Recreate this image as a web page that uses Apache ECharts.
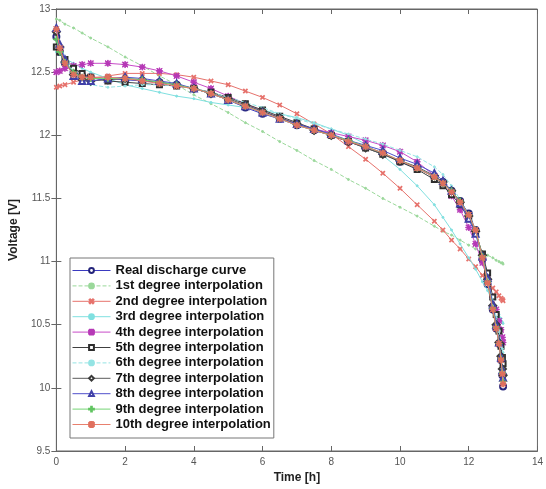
<!DOCTYPE html>
<html>
<head>
<meta charset="utf-8">
<script src="https://cdn.jsdelivr.net/npm/echarts@6/dist/echarts.min.js"></script>
<style>
  html, body { margin: 0; padding: 0; background: #fff; }
  #chart { width: 546px; height: 489px; }
</style>
</head>
<body>
<div id="chart"></div>
<script>
// Sample times of the discharge test [h]
const timeH = [0, 0.1, 0.25, 0.5, 0.75, 1, 1.5, 2, 2.5, 3, 3.5, 4, 4.5, 5, 5.5, 6,
  6.5, 7, 7.5, 8, 8.5, 9, 9.5, 10, 10.5, 11, 11.25, 11.5, 11.75, 12,
  12.2, 12.4, 12.55, 12.7, 12.8, 12.88, 12.94, 12.98, 13.0];

// Measured battery voltage [V]
const realCurve = [12.78, 12.66, 12.57, 12.50, 12.47, 12.46,
  12.45, 12.44, 12.43, 12.42, 12.40, 12.37, 12.33, 12.28, 12.22, 12.17,
  12.13, 12.08, 12.04, 12.00, 11.95, 11.91, 11.86, 11.79, 11.74, 11.67,
  11.63, 11.56, 11.48, 11.38,
  11.25, 11.02, 10.82, 10.62, 10.47, 10.35, 10.22, 10.10, 10.01];

// Polynomial fits evaluated at the sample times [V]
const deg1 = [12.92, 12.91, 12.88, 12.85, 12.81, 12.77,
  12.70, 12.62, 12.55, 12.47, 12.40, 12.32, 12.25, 12.18, 12.10, 12.03,
  11.95, 11.88, 11.80, 11.73, 11.65, 11.58, 11.50, 11.43, 11.36, 11.28,
  11.24, 11.21, 11.17, 11.13,
  11.10, 11.07, 11.05, 11.03, 11.01, 11.00, 10.99, 10.99, 10.98];
const deg2 = [12.38, 12.39, 12.40, 12.42, 12.44, 12.45,
  12.47, 12.49, 12.49, 12.49, 12.48, 12.46, 12.43, 12.40, 12.35, 12.30,
  12.24, 12.17, 12.09, 12.01, 11.91, 11.81, 11.70, 11.58, 11.45, 11.32,
  11.25, 11.17, 11.10, 11.02,
  10.96, 10.89, 10.84, 10.79, 10.76, 10.73, 10.71, 10.70, 10.69];
const deg3 = [12.66, 12.64, 12.61, 12.57, 12.53, 12.50,
  12.45, 12.40, 12.37, 12.34, 12.31, 12.29, 12.26, 12.24, 12.22, 12.20,
  12.17, 12.14, 12.10, 12.05, 12.00, 11.93, 11.84, 11.73, 11.60, 11.45,
  11.35, 11.25, 11.14, 11.03,
  10.94, 10.84, 10.77, 10.68, 10.62, 10.58, 10.55, 10.52, 10.51];
const deg4 = [12.50, 12.51, 12.53, 12.55, 12.56, 12.57,
  12.57, 12.56, 12.54, 12.51, 12.47, 12.42, 12.37, 12.31, 12.25, 12.19,
  12.14, 12.09, 12.05, 12.02, 11.99, 11.96, 11.92, 11.87, 11.79, 11.68,
  11.61, 11.52, 11.41, 11.27,
  11.14, 10.99, 10.86, 10.72, 10.62, 10.53, 10.46, 10.40, 10.36];
const deg5 = [12.70, 12.66, 12.60, 12.53, 12.49, 12.46,
  12.43, 12.42, 12.41, 12.40, 12.39, 12.37, 12.34, 12.30, 12.25, 12.20,
  12.15, 12.10, 12.05, 12.00, 11.95, 11.90, 11.85, 11.79, 11.73, 11.65,
  11.60, 11.53, 11.45, 11.34,
  11.23, 11.06, 10.91, 10.72, 10.58, 10.45, 10.33, 10.24, 10.19];
const deg6 = [12.80, 12.72, 12.62, 12.50, 12.43, 12.40,
  12.38, 12.39, 12.40, 12.40, 12.39, 12.37, 12.34, 12.30, 12.26, 12.22,
  12.17, 12.13, 12.09, 12.05, 12.01, 11.97, 11.93, 11.88, 11.83, 11.75,
  11.69, 11.60, 11.49, 11.35,
  11.21, 11.03, 10.87, 10.69, 10.56, 10.45, 10.37, 10.31, 10.28];
const deg7 = [12.82, 12.70, 12.58, 12.48, 12.44, 12.43,
  12.44, 12.45, 12.44, 12.42, 12.40, 12.37, 12.33, 12.29, 12.24, 12.19,
  12.14, 12.09, 12.04, 12.00, 11.95, 11.90, 11.85, 11.80, 11.75, 11.68,
  11.63, 11.56, 11.47, 11.36,
  11.24, 11.05, 10.86, 10.65, 10.50, 10.36, 10.25, 10.15, 10.10];
const deg8 = [12.85, 12.72, 12.60, 12.47, 12.43, 12.43,
  12.45, 12.46, 12.45, 12.43, 12.41, 12.37, 12.33, 12.28, 12.23, 12.18,
  12.13, 12.09, 12.05, 12.01, 11.96, 11.92, 11.88, 11.82, 11.77, 11.70,
  11.64, 11.56, 11.46, 11.34,
  11.22, 11.04, 10.87, 10.66, 10.50, 10.36, 10.24, 10.14, 10.08];
const deg9 = [12.76, 12.66, 12.58, 12.50, 12.46, 12.45,
  12.45, 12.45, 12.44, 12.42, 12.40, 12.37, 12.33, 12.28, 12.23, 12.18,
  12.13, 12.08, 12.04, 12.00, 11.96, 11.91, 11.86, 11.80, 11.74, 11.67,
  11.62, 11.56, 11.48, 11.37,
  11.25, 11.04, 10.84, 10.63, 10.48, 10.35, 10.23, 10.12, 10.05];
const deg10 = [12.84, 12.69, 12.57, 12.48, 12.46, 12.46,
  12.46, 12.45, 12.43, 12.41, 12.39, 12.37, 12.33, 12.28, 12.23, 12.18,
  12.13, 12.08, 12.04, 12.00, 11.95, 11.91, 11.86, 11.80, 11.74, 11.67,
  11.62, 11.55, 11.47, 11.37,
  11.25, 11.03, 10.83, 10.62, 10.47, 10.35, 10.22, 10.11, 10.03];

const seriesNames = ['Real discharge curve', '1st degree interpolation', '2nd degree interpolation',
  '3rd degree interpolation', '4th degree interpolation', '5th degree interpolation',
  '6th degree interpolation', '7th degree interpolation', '8th degree interpolation',
  '9th degree interpolation', '10th degree interpolation'];
const seriesValues = [realCurve, deg1, deg2, deg3, deg4, deg5, deg6, deg7, deg8, deg9, deg10];

// Axis ranges and steps
const timeAxis = { min: 0, max: 14, step: 2 };
const voltAxis = { min: 9.5, max: 13, step: 0.5 };

// Marker shapes
const PLUS = 'path://M4.3,0H5.7V4.3H10V5.7H5.7V10H4.3V5.7H0V4.3H4.3Z';
const STAR = 'path://M4.4,0H5.6V10H4.4Z M0,4.4H10V5.6H0Z M1.2,0.4L9.6,8.8L8.8,9.6L0.4,1.2Z M8.8,0.4L9.6,1.2L1.2,9.6L0.4,8.8Z';

// Line and marker look of each curve
const looks = [
  { color: '#3a3ac0', type: 'solid', symbol: 'emptyCircle', size: 6, mark: '#24247a' },
  { color: '#9ad89a', type: 'dashed', symbol: 'circle', size: 2, mark: '#9ad89a' },
  { color: '#e6726c', type: 'solid', symbol: PLUS, size: 5, rotate: 45, mark: '#e6726c' },
  { color: '#80e0e0', type: 'solid', symbol: 'circle', size: 2, mark: '#80e0e0' },
  { color: '#c84cc8', type: 'solid', symbol: STAR, size: 6, mark: '#b638b6' },
  { color: '#404040', type: 'solid', symbol: 'emptyRect', size: 5, mark: '#2e2e2e' },
  { color: '#94e4e4', type: 'dashed', symbol: 'circle', size: 2, mark: '#94e4e4' },
  { color: '#5a5a5a', type: 'solid', symbol: 'emptyDiamond', size: 7, mark: '#3a3a3a' },
  { color: '#5050cc', type: 'solid', symbol: 'emptyTriangle', size: 6, mark: '#4040a8' },
  { color: '#74d474', type: 'solid', symbol: PLUS, size: 6, mark: '#60c460' },
  { color: '#e8806e', type: 'solid', symbol: STAR, size: 6, mark: '#e0705e' }
];

const series = seriesNames.map((name, k) => {
  const lk = looks[k];
  return {
    name: name,
    type: 'line',
    xAxisIndex: 0,
    yAxisIndex: 0,
    data: timeH.map((t, i) => [t, seriesValues[k][i]]),
    showSymbol: true,
    showAllSymbol: true,
    symbol: lk.symbol,
    symbolSize: lk.size,
    symbolRotate: lk.rotate || 0,
    lineStyle: { color: lk.color, width: 1, type: lk.type },
    itemStyle: { color: lk.mark, borderColor: lk.mark, borderWidth: 1 },
    emphasis: { disabled: true },
    z: 2 + k
  };
});

const axisColor = '#666';
const tickStyle = { show: true, inside: true, length: 5, lineStyle: { color: axisColor } };
const labelStyle = { color: '#555', fontSize: 10, fontFamily: 'Liberation Sans, Arial, sans-serif' };

const option = {
  animation: false,
  backgroundColor: '#fff',
  grid: { left: 52, right: 6, top: 9, bottom: 37, show: true, borderColor: axisColor, borderWidth: 1 },
  xAxis: [
    {
      type: 'value', min: timeAxis.min, max: timeAxis.max, interval: timeAxis.step,
      name: 'Time [h]', nameLocation: 'middle', nameGap: 21,
      nameTextStyle: { color: '#222', fontSize: 12, fontWeight: 'bold', fontFamily: 'Liberation Sans, Arial, sans-serif' },
      axisLine: { show: true, lineStyle: { color: axisColor } },
      axisTick: tickStyle, splitLine: { show: false },
      axisLabel: Object.assign({ margin: 6 }, labelStyle)
    },
    {
      type: 'value', position: 'top', min: timeAxis.min, max: timeAxis.max, interval: timeAxis.step,
      axisLine: { show: true, lineStyle: { color: axisColor } },
      axisTick: tickStyle, splitLine: { show: false }, axisLabel: { show: false }
    }
  ],
  yAxis: [
    {
      type: 'value', min: voltAxis.min, max: voltAxis.max, interval: voltAxis.step,
      name: 'Voltage [V]', nameLocation: 'middle', nameGap: 26,
      nameTextStyle: { color: '#222', fontSize: 12, fontWeight: 'bold', fontFamily: 'Liberation Sans, Arial, sans-serif' },
      axisLine: { show: true, lineStyle: { color: axisColor } },
      axisTick: tickStyle, splitLine: { show: false },
      axisLabel: Object.assign({ margin: 6 }, labelStyle)
    },
    {
      type: 'value', position: 'right', min: voltAxis.min, max: voltAxis.max, interval: voltAxis.step,
      axisLine: { show: true, lineStyle: { color: axisColor } },
      axisTick: tickStyle, splitLine: { show: false }, axisLabel: { show: false }
    }
  ],
  legend: {
    orient: 'vertical',
    left: 70,
    top: 258,
    padding: [6, 3, 7, 2],
    backgroundColor: '#fff',
    borderColor: '#777',
    borderWidth: 1,
    borderRadius: 0,
    itemWidth: 38,
    itemHeight: 6,
    itemGap: 2.4,
    itemTextGap: 3,
    selectedMode: false,
    lineStyle: { width: 1 },
    textStyle: { color: '#111', fontSize: 13, fontWeight: 'bold', lineHeight: 12,
      fontFamily: 'Liberation Sans, Arial, sans-serif' },
    data: seriesNames
  },
  series: series
};

const chart = echarts.init(document.getElementById('chart'), null, { renderer: 'canvas' });
chart.setOption(option);
</script>
</body>
</html>
